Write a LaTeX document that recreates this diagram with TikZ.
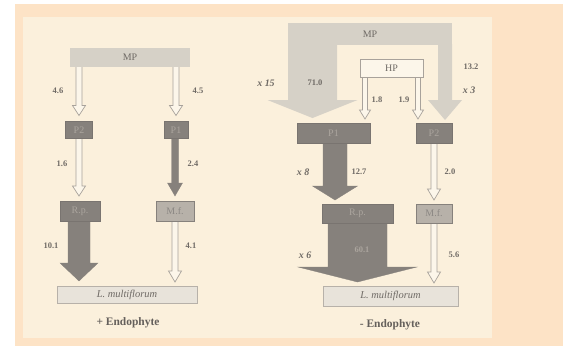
\documentclass[tikz,border=0pt]{standalone}
\usepackage{fontspec}
\setmainfont{Liberation Serif}
\usetikzlibrary{calc}
\pgfdeclarelayer{bg}
\pgfdeclarelayer{arr}
\pgfsetlayers{bg,arr,main}
\definecolor{peach}{HTML}{FDE3C6}
\definecolor{cream}{HTML}{FBF0DC}
\definecolor{lgray}{HTML}{D6D1C7}
\definecolor{dgray}{HTML}{86817C}
\definecolor{mgray}{HTML}{B7B1A9}
\definecolor{txt}{HTML}{6F6A65}
\definecolor{txtd}{HTML}{ABA59E}
\definecolor{hollowline}{HTML}{A8A29B}
\definecolor{hollowfill}{HTML}{FCF6EA}
\definecolor{lmfill}{HTML}{E8E3DA}
\newcommand{\varr}[6]{%
  \path[#1] let \p1=(#2), \p2=(#3) in
    (\x1-#4bp,\y1) -- (\x1-#4bp,\y2+#6bp) -- (\x1-#5bp,\y2+#6bp) -- (\x1,\y2)
    -- (\x1+#5bp,\y2+#6bp) -- (\x1+#4bp,\y2+#6bp) -- (\x1+#4bp,\y1) -- cycle;
}
\tikzset{
  box/.style={rectangle, inner sep=0pt, outer sep=0pt, font=\fontsize{10}{11}\selectfont},
  lightbox/.style={box, fill=lgray, text=txt},
  darkbox/.style={box, fill=dgray, draw=dgray!90!black, line width=0.4bp, text=txtd},
  medbox/.style={box, fill=mgray, draw=dgray, line width=0.4bp, text=txt!80},
  hpbox/.style={box, fill=hollowfill, draw=hollowline, line width=0.7bp, text=txt},
  lmbox/.style={box, fill=lmfill, draw=mgray, line width=0.7bp, text=txt, font=\fontsize{10.5}{11}\selectfont\itshape},
  num/.style={inner sep=0pt, text=txt, font=\fontsize{8.5}{9}\selectfont\bfseries},
  mult/.style={inner sep=0pt, text=txt, font=\fontsize{10}{11}\selectfont\bfseries\itshape},
  captext/.style={inner sep=0pt, text=txt!90!black, font=\fontsize{11.5}{12}\selectfont\bfseries},
  hollow/.style={draw=hollowline, fill=hollowfill, line width=0.7bp, line join=miter},
  solidarr/.style={fill=dgray, draw=dgray, line width=0.3bp},
  mparr/.style={fill=lgray},
}
\begin{document}
\begin{tikzpicture}[x=1bp,y=-1bp]
\useasboundingbox (0,0) rectangle (563,346);
\begin{pgfonlayer}{bg}
  \fill[white] (0,0) rectangle (563,346);
  \fill[peach] (15,4) rectangle (563,346);
  \fill[cream] (23,17) rectangle (492,338);
\end{pgfonlayer}

% ---------- left web (+ Endophyte)
\node[lightbox, minimum width=120bp, minimum height=19bp] (mpL) at (130,57) {MP};
\node[darkbox, minimum width=27bp, minimum height=17bp] (p2L) at (79,130) {P2};
\node[darkbox, minimum width=24bp, minimum height=17bp] (p1L) at (176,130) {P1};
\node[darkbox, minimum width=40bp, minimum height=20bp] (rpL) at (80,211) {R.p.};
\node[medbox, minimum width=38bp, minimum height=20bp] (mfL) at (175,211) {M.f.};
\node[lmbox, minimum width=140bp, minimum height=17bp] (lmL) at (127,294.5) {L. multiflorum};
\node[captext] (endoL) at (128,323) {+ Endophyte};

\begin{pgfonlayer}{arr}
  \varr{hollow}{mpL.south -| p2L}{[yshift=6bp]p2L.north}{3}{6.5}{10}
  \varr{hollow}{mpL.south -| p1L}{[yshift=6bp]p1L.north}{3}{6.5}{10}
  \varr{hollow}{p2L.south}{[yshift=5bp]rpL.north}{3}{6.5}{10}
  \varr{solidarr}{p1L.south -| mfL}{[yshift=5bp]mfL.north}{3.5}{7.5}{13}
  \varr{solidarr}{rpL.south -| p2L}{[yshift=5bp]lmL.north}{11}{19}{18}
  \varr{hollow}{mfL.south}{[yshift=4bp]lmL.north -| mfL}{3}{6.5}{11}
\end{pgfonlayer}
\node[num] (n46) at (58,91) {4.6};
\node[num] (n45) at (198,91) {4.5};
\node[num] (n16) at (62,164) {1.6};
\node[num] (n24) at (193,164) {2.4};
\node[num] (n101) at (51,246) {10.1};
\node[num] (n41) at (191,246) {4.1};

% ---------- right web (- Endophyte)
\node[lightbox, minimum width=164bp, minimum height=22bp] (mpR) at (370,34) {};
\node[box, text=txt] (mpRt) at (mpR.center) {MP};
\node[hpbox, minimum width=63bp, minimum height=18bp] (hpR) at (391.5,68) {HP};
\node[darkbox, minimum width=73bp, minimum height=20bp] (p1R) at (333.5,133) {P1};
\node[darkbox, minimum width=36bp, minimum height=20bp] (p2R) at (434,133) {P2};
\node[darkbox, minimum width=71bp, minimum height=19bp] (rpR) at (357.5,213.5) {R.p.};
\node[medbox, minimum width=36bp, minimum height=19bp] (mfR) at (434,213.5) {M.f.};
\node[lmbox, minimum width=135bp, minimum height=20bp] (lmR) at (390.5,296) {L. multiflorum};
\node[captext] (endoR) at (390,325) {- Endophyte};

\begin{pgfonlayer}{arr}
  \varr{mparr}{[xshift=24.5bp,yshift=1bp]mpR.south west}{[yshift=5bp]p1R.north}{24.5}{45}{18}
  \varr{mparr}{[xshift=-7bp,yshift=1bp]mpR.south east}{[yshift=3bp]p2R.north}{7}{17}{20}
  \varr{hollow}{[xshift=5bp]hpR.south west}{[yshift=4bp]p1R.north}{2.5}{5.5}{9}
  \varr{hollow}{[xshift=-5bp]hpR.south east}{[yshift=4bp]p2R.north}{2.5}{5.5}{9}
  \varr{solidarr}{[xshift=1.5bp]p1R.south}{[yshift=4bp]rpR.north}{12}{22.5}{14}
  \varr{hollow}{p2R.south}{[yshift=4bp]mfR.north}{3}{6.5}{11}
  \varr{solidarr}{rpR.south}{[yshift=4bp]lmR.north}{29.5}{59.5}{15}
  \varr{hollow}{mfR.south}{[yshift=3bp]lmR.north}{3}{6.5}{11}
\end{pgfonlayer}
\node[mult] (x15) at (266,83) {x 15};
\node[num] (n710) at (315,83) {71.0};
\node[num] (n18) at (377,100) {1.8};
\node[num] (n19) at (404,100) {1.9};
\node[num] (n132) at (471,67) {13.2};
\node[mult] (x3) at (469,90) {x 3};
\node[mult] (x8) at (303,172) {x 8};
\node[num] (n127) at (359,172) {12.7};
\node[num] (n20) at (450,172) {2.0};
\node[mult] (x6) at (305,255) {x 6};
\node[num, text=txtd] (n601) at (362,250) {60.1};
\node[num] (n56) at (454,255) {5.6};
\end{tikzpicture}
\end{document}
